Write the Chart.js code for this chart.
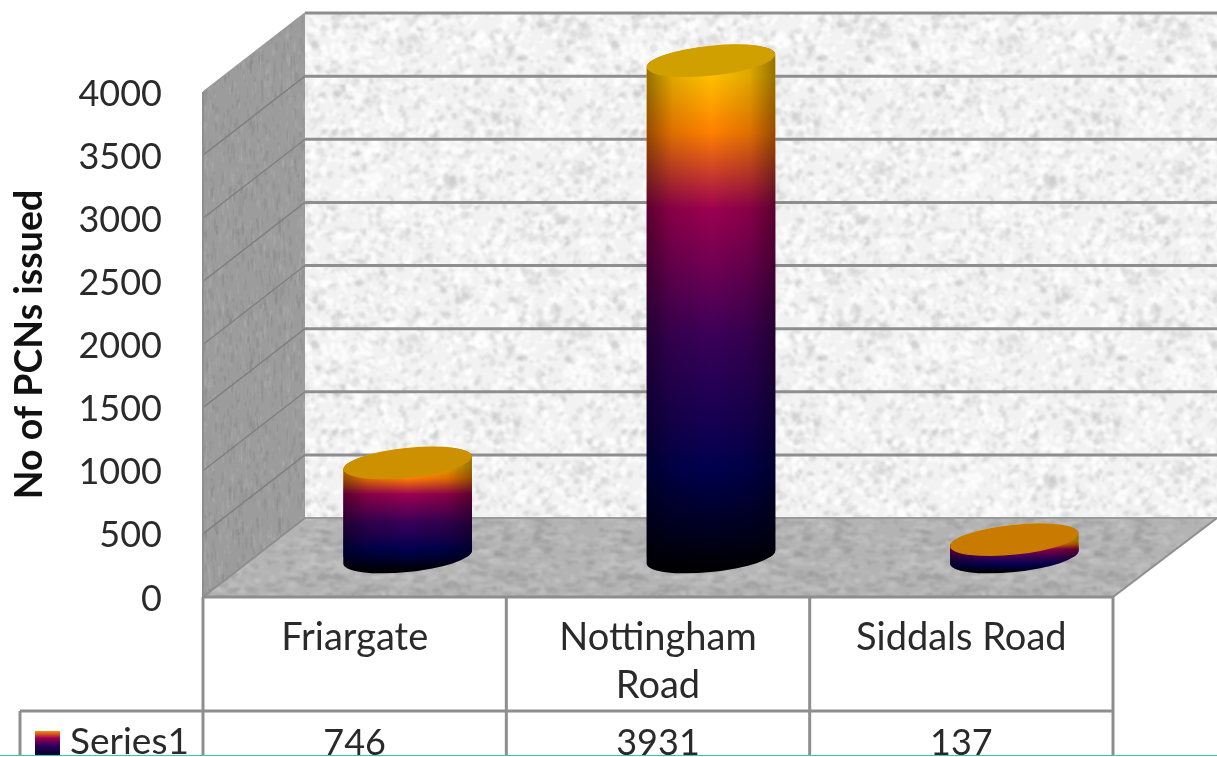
<!DOCTYPE html>
<html>
<head>
<meta charset="utf-8">
<title>PCNs issued</title>
<style>
html, body { margin: 0; padding: 0; background: #fff; overflow: hidden; }
canvas { display: block; }
</style>
<script src="https://cdn.jsdelivr.net/npm/chart.js@4/dist/chart.umd.min.js"></script>
</head>
<body>
<canvas id="pcnChart" width="1217" height="757"></canvas>
<script>
const categories = ['Friargate', ['Nottingham', 'Road'], 'Siddals Road'];
const pcnValues = [746, 3931, 137];
const seriesName = 'Series1';
const yTicks = [0, 500, 1000, 1500, 2000, 2500, 3000, 3500, 4000];
const axisTitle = 'No of PCNs issued';

const fontFamily = 'Lato, "Open Sans", sans-serif';
const textColor = '#2a2a2a';
const lineColor = '#8e8e8e';

// 3D box depth and where the cylinders sit inside it
const wallDx = 102, wallDy = 79;
const barDx = 53, barDy = 40;
const tilt = -6 * Math.PI / 180;
const capRatio = 0.232;

const fireStops = [[0, '#000000'], [0.2, '#00004e'], [0.46, '#3a0058'], [0.71, '#9c0050'], [0.86, '#ff8000'], [0.97, '#ffc000'], [1, '#ffc000']];
const capColors = ['#cc9000', '#d0a000', '#c97a00'];

// small repeatable generator, only used for the stone textures
function lcg(seed) {
    let s = seed;
    return () => (s = (s * 1664525 + 1013904223) >>> 0) / 4294967296;
}

function stoneTexture(base, seed, count, sizeMax, stretchX, stretchY, dark, light, blur) {
    const raw = document.createElement('canvas');
    raw.width = raw.height = 300;
    const r = raw.getContext('2d');
    r.fillStyle = base;
    r.fillRect(0, 0, 300, 300);
    const rnd = lcg(seed);
    const wrap = [-300, 0, 300];
    for (let i = 0; i < count; i++) {
        const x = rnd() * 300, y = rnd() * 300;
        const rx = (0.8 + rnd() * sizeMax) * stretchX, ry = (0.8 + rnd() * sizeMax) * stretchY;
        const turn = stretchX === stretchY ? rnd() * 3 : 0;
        r.fillStyle = rnd() < 0.5 ? dark : light;
        r.beginPath();
        wrap.forEach(ox => wrap.forEach(oy => {
            r.moveTo(x + ox + rx, y + oy);
            r.ellipse(x + ox, y + oy, rx, ry, turn, 0, Math.PI * 2);
        }));
        r.fill();
    }
    // lay out 3x3 copies and blur once, so the tile repeats without seams
    const big = document.createElement('canvas');
    big.width = big.height = 900;
    const g = big.getContext('2d');
    wrap.forEach(ox => wrap.forEach(oy => g.drawImage(raw, ox + 300, oy + 300)));
    const soft = document.createElement('canvas');
    soft.width = soft.height = 300;
    const s = soft.getContext('2d');
    s.filter = 'blur(' + blur + 'px)';
    s.drawImage(big, -300, -300);
    return soft;
}

const backStone = stoneTexture('#f2f2f2', 11, 3000, 3.5, 1, 1, 'rgba(175,175,175,0.24)', 'rgba(255,255,255,0.75)', 1.1);
const floorStone = stoneTexture('#b3b3b3', 23, 3000, 2.6, 2.2, 0.8, 'rgba(135,135,135,0.26)', 'rgba(210,210,210,0.3)', 0.9);
const sideStone = stoneTexture('#9c9c9c', 37, 2600, 2.2, 0.5, 2.4, 'rgba(125,125,125,0.22)', 'rgba(185,185,185,0.22)', 0.7);

function fillPoly(ctx, points, fill) {
    ctx.beginPath();
    points.forEach((p, i) => i ? ctx.lineTo(p[0], p[1]) : ctx.moveTo(p[0], p[1]));
    ctx.closePath();
    ctx.fillStyle = fill;
    ctx.fill();
}

function strokeLine(ctx, x1, y1, x2, y2, color, width) {
    ctx.beginPath();
    ctx.moveTo(x1, y1);
    ctx.lineTo(x2, y2);
    ctx.strokeStyle = color;
    ctx.lineWidth = width;
    ctx.stroke();
}

function fireGradient(ctx, bottom, top) {
    const g = ctx.createLinearGradient(0, bottom, 0, top);
    fireStops.forEach(s => g.addColorStop(s[0], s[1]));
    return g;
}

function cylinderGeometry(bar) {
    const a = bar.width / 2;
    const b = a * capRatio;
    const t0 = Math.atan(-(b / a) * Math.tan(tilt));
    return { cx: bar.x, top: bar.y, base: bar.base, a, b, t0 };
}

function silhouette(ctx, c) {
    const t = c.t0 + Math.PI;
    ctx.moveTo(c.cx + c.a * Math.cos(t) * Math.cos(tilt) - c.b * Math.sin(t) * Math.sin(tilt),
        c.top + c.a * Math.cos(t) * Math.sin(tilt) + c.b * Math.sin(t) * Math.cos(tilt));
    ctx.ellipse(c.cx, c.top, c.a, c.b, tilt, t, t + Math.PI);
    ctx.ellipse(c.cx, c.base, c.a, c.b, tilt, c.t0, t);
    ctx.closePath();
}

const box3d = {
    id: 'box3d',
    beforeDraw(chart) {
        const { ctx, canvas, chartArea: area, scales: { y } } = chart;
        const left = area.left, right = area.right, top = area.top, bottom = area.bottom;
        const backX = left + wallDx, backBottom = bottom - wallDy, backTop = top - wallDy;

        ctx.save();
        ctx.fillStyle = '#fff';
        ctx.fillRect(0, 0, canvas.width, canvas.height);

        fillPoly(ctx, [[backX, backTop], [canvas.width, backTop], [canvas.width, backBottom], [backX, backBottom]], ctx.createPattern(backStone, 'repeat'));
        fillPoly(ctx, [[left, top], [backX, backTop], [backX, backBottom], [left, bottom]], ctx.createPattern(sideStone, 'repeat'));
        fillPoly(ctx, [[left, bottom], [backX, backBottom], [canvas.width, backBottom], [right, bottom]], ctx.createPattern(floorStone, 'repeat'));

        yTicks.forEach(v => {
            const py = y.getPixelForValue(v);
            if (v > 0) {
                strokeLine(ctx, backX, py - wallDy, canvas.width, py - wallDy, lineColor, 3);
                strokeLine(ctx, left, py, backX, py - wallDy, v === 4000 ? '#9a9a9a' : '#808080', 1.5);
            }
        });
        strokeLine(ctx, backX, backBottom, canvas.width, backBottom, '#9a9a9a', 2);
        strokeLine(ctx, left, bottom, backX, backBottom, lineColor, 2);
        strokeLine(ctx, right, bottom, canvas.width, backBottom, lineColor, 2);
        strokeLine(ctx, left, top, left, bottom, lineColor, 2);

        // data table under the plot
        const rowY = 711, tableEnd = 756;
        const step = (right - left) / categories.length;
        strokeLine(ctx, left, bottom, right, bottom, lineColor, 3);
        strokeLine(ctx, 20, rowY, right, rowY, lineColor, 3);
        strokeLine(ctx, 20, rowY, 20, tableEnd, lineColor, 3);
        for (let i = 0; i <= categories.length; i++) {
            strokeLine(ctx, left + step * i, bottom, left + step * i, tableEnd, lineColor, 3);
        }

        const swatch = ctx.createLinearGradient(0, 755, 0, 731);
        swatch.addColorStop(0, '#000030');
        swatch.addColorStop(0.4, '#30005a');
        swatch.addColorStop(0.7, '#9c0050');
        swatch.addColorStop(1, '#ff9000');
        ctx.fillStyle = swatch;
        ctx.fillRect(35, 731, 25, 24);

        ctx.fillStyle = textColor;
        ctx.textBaseline = 'alphabetic';
        ctx.textAlign = 'left';
        ctx.font = '37px ' + fontFamily;
        ctx.fillText(seriesName, 70, 754);
        ctx.textAlign = 'center';
        ctx.font = '36px ' + fontFamily;
        pcnValues.forEach((v, i) => ctx.fillText(String(v), left + step * (i + 0.5), 755));
        ctx.restore();
    },
    beforeDatasetDraw(chart) {
        const { ctx } = chart;
        const bars = chart.getDatasetMeta(0).data;
        ctx.save();
        ctx.translate(barDx, -barDy);
        ctx.beginPath();
        bars.forEach(bar => silhouette(ctx, cylinderGeometry(bar)));
        ctx.clip();
        bars.forEach(bar => {
            const c = cylinderGeometry(bar);
            ctx.fillStyle = fireGradient(ctx, c.base + c.b, c.top);
            ctx.fillRect(c.cx - c.a - 1, c.top - c.b - 10, c.a * 2 + 2, c.base - c.top + c.b * 2 + 20);
        });
    },
    afterDatasetDraw(chart) {
        const { ctx } = chart;
        const bars = chart.getDatasetMeta(0).data;
        bars.forEach((bar, i) => {
            const c = cylinderGeometry(bar);
            // rounding shade across the body
            const shade = ctx.createLinearGradient(c.cx - c.a, 0, c.cx + c.a, 0);
            shade.addColorStop(0, 'rgba(0,0,0,0.42)');
            shade.addColorStop(0.2, 'rgba(0,0,0,0.13)');
            shade.addColorStop(0.5, 'rgba(0,0,0,0)');
            shade.addColorStop(0.8, 'rgba(0,0,0,0.13)');
            shade.addColorStop(1, 'rgba(0,0,0,0.42)');
            ctx.fillStyle = shade;
            ctx.fillRect(c.cx - c.a - 1, c.top - c.b - 10, c.a * 2 + 2, c.base - c.top + c.b * 2 + 20);

            ctx.beginPath();
            ctx.ellipse(c.cx, c.top, c.a, c.b, tilt, 0, Math.PI * 2);
            ctx.fillStyle = capColors[i];
            ctx.fill();
        });
        ctx.restore();
    },
    afterDraw(chart) {
        const { ctx, canvas } = chart;
        // strip along the bottom edge of the page
        ctx.save();
        ctx.fillStyle = '#fff';
        ctx.fillRect(0, 755, canvas.width, 2);
        ctx.fillStyle = '#33c9b3';
        ctx.fillRect(0, 755, canvas.width, 1);
        ctx.restore();
    }
};

new Chart(document.getElementById('pcnChart').getContext('2d'), {
    type: 'bar',
    data: {
        labels: categories,
        datasets: [{
            label: seriesName,
            data: pcnValues,
            clip: false,
            barPercentage: 0.426,
            categoryPercentage: 1,
            backgroundColor: function(context) {
                const y = context.chart.scales.y;
                if (!context.chart.chartArea || !y) return '#000';
                const top = y.getPixelForValue(pcnValues[context.dataIndex]);
                const bottom = y.getPixelForValue(0) + 15;
                if (!Number.isFinite(top) || !Number.isFinite(bottom)) return '#000';
                return fireGradient(context.chart.ctx, bottom, top);
            }
        }]
    },
    plugins: [box3d],
    options: {
        responsive: false,
        animation: false,
        layout: { padding: { top: 92, right: 104, bottom: 0, left: 0 } },
        plugins: { legend: { display: false }, tooltip: { enabled: false }, title: { display: false } },
        scales: {
            x: {
                grid: { display: false },
                border: { display: false },
                afterFit(scale) { scale.height = 160; },
                ticks: {
                    color: textColor,
                    maxRotation: 0,
                    autoSkip: false,
                    padding: 9,
                    font: { family: fontFamily, size: 38, lineHeight: 1.26 }
                }
            },
            y: {
                min: 0,
                max: 4000,
                grid: { display: false },
                border: { display: false },
                afterFit(scale) { scale.width = 203; },
                afterBuildTicks(scale) { scale.ticks = yTicks.map(value => ({ value })); },
                title: {
                    display: true,
                    text: axisTitle,
                    color: '#111',
                    padding: { top: 7, bottom: 0 },
                    font: { family: fontFamily, size: 37.5, weight: 'bold' }
                },
                ticks: {
                    color: textColor,
                    padding: 33,
                    labelOffset: 2,
                    callback: value => String(value),
                    font: { family: fontFamily, size: 36 }
                }
            }
        }
    }
});
</script>
</body>
</html>
